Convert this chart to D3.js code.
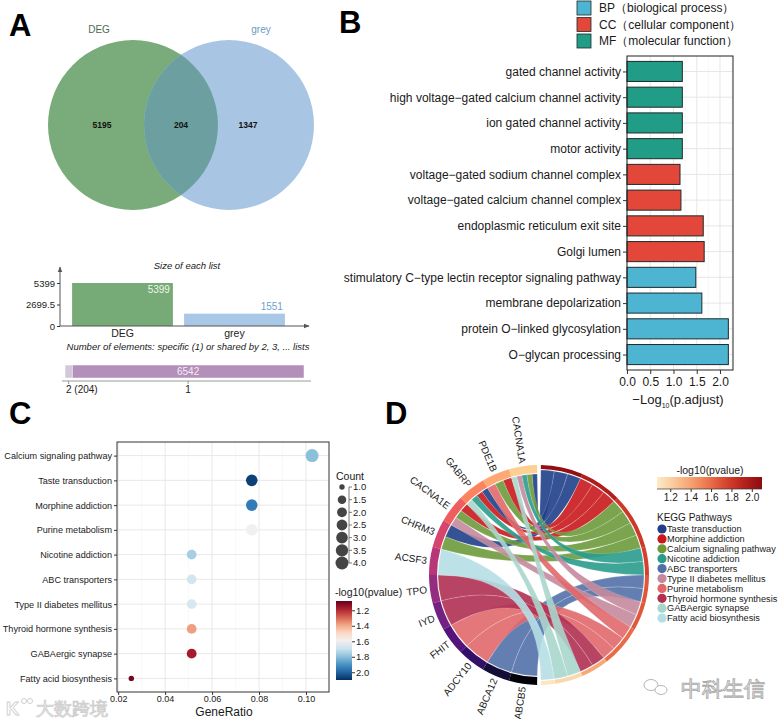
<!DOCTYPE html>
<html>
<head>
<meta charset="utf-8">
<title>DEG / grey module enrichment</title>
<script src="https://d3js.org/d3.v7.min.js"></script>
<style>
  body { margin: 0; background: #fff; }
  text { font-family: 'Liberation Sans', Arial, Helvetica, sans-serif; fill: #1a1a1a; }
</style>
</head>
<body>
<script>
'use strict';

// ---------- panel A data
const vennSets = ['DEG', 'grey'];
const vennRegions = [5195, 204, 1347];          // DEG only, shared, grey only
const listSizes = [5399, 1551];
const sizeTicks = [0, 2699.5, 5399];
const sharedLabels = ['2 (204)', '1'];
const sharedCounts = [204, 6542];

// ---------- panel B data
const goTerms = [
  'gated channel activity',
  'high voltage\u2212gated calcium channel activity',
  'ion gated channel activity',
  'motor activity',
  'voltage\u2212gated sodium channel complex',
  'voltage\u2212gated calcium channel complex',
  'endoplasmic reticulum exit site',
  'Golgi lumen',
  'stimulatory C\u2212type lectin receptor signaling pathway',
  'membrane depolarization',
  'protein O\u2212linked glycosylation',
  'O\u2212glycan processing'
];
const goLogP = [1.19, 1.19, 1.19, 1.19, 1.14, 1.16, 1.64, 1.66, 1.48, 1.61, 2.18, 2.18];
const goOnt = ['MF', 'MF', 'MF', 'MF', 'CC', 'CC', 'CC', 'CC', 'BP', 'BP', 'BP', 'BP'];
const ontKeys = ['BP', 'CC', 'MF'];
const ontLabels = ['BP\uff08biological process\uff09', 'CC\uff08cellular component\uff09', 'MF\uff08molecular function\uff09'];
const goTicks = [0, 0.5, 1, 1.5, 2];

// ---------- panel C data
const keggTerms = [
  'Calcium signaling pathway', 'Taste transduction', 'Morphine addiction',
  'Purine metabolism', 'Nicotine addiction', 'ABC transporters',
  'Type II diabetes mellitus', 'Thyroid hormone synthesis', 'GABAergic synapse',
  'Fatty acid biosynthesis'
];
const keggRatio = [0.1026, 0.0769, 0.0769, 0.0769, 0.0513, 0.0513, 0.0513, 0.0513, 0.0513, 0.0256];
const keggCount = [4, 3, 3, 3, 2, 2, 2, 2, 2, 1];
const keggLogP = [1.80, 2.07, 1.95, 1.60, 1.76, 1.68, 1.67, 1.38, 1.17, 1.10];
const ratioTicks = [0.02, 0.04, 0.06, 0.08, 0.10];
const countBreaks = [1, 1.5, 2, 2.5, 3, 3.5, 4];
const logPTicks = [1.2, 1.4, 1.6, 1.8, 2.0];

// ---------- panel D data
const chordPathways = [
  'Taste transduction', 'Morphine addiction', 'Calcium signaling pathway',
  'Nicotine addiction', 'ABC transporters', 'Type II diabetes mellitus',
  'Purine metabolism', 'Thyroid hormone synthesis', 'GABAergic synapse',
  'Fatty acid biosynthesis'
];
const pathwayColors = ['#1f3f88', '#c8181c', '#6b9a3a', '#2a9c8c', '#5270a8',
                       '#c48a9c', '#e0686c', '#b03052', '#a8d6cc', '#b5dfe6'];
const chordGenes = ['CACNA1A', 'PDE1B', 'GABRP', 'CACNA1E', 'CHRM3', 'ACSF3',
                    'TPO', 'IYD', 'FHIT', 'ADCY10', 'ABCA12', 'ABCB5'];
const chordLinks = [
  ['CACNA1A', 'Taste transduction'], ['CACNA1A', 'Calcium signaling pathway'],
  ['CACNA1A', 'Nicotine addiction'], ['CACNA1A', 'Type II diabetes mellitus'],
  ['CACNA1A', 'GABAergic synapse'],
  ['PDE1B', 'Morphine addiction'], ['PDE1B', 'Calcium signaling pathway'], ['PDE1B', 'Purine metabolism'],
  ['GABRP', 'Taste transduction'], ['GABRP', 'Morphine addiction'],
  ['GABRP', 'Nicotine addiction'], ['GABRP', 'GABAergic synapse'],
  ['CACNA1E', 'Morphine addiction'], ['CACNA1E', 'Calcium signaling pathway'],
  ['CACNA1E', 'Type II diabetes mellitus'],
  ['CHRM3', 'Taste transduction'], ['CHRM3', 'Calcium signaling pathway'],
  ['ACSF3', 'Fatty acid biosynthesis'],
  ['TPO', 'Thyroid hormone synthesis'], ['IYD', 'Thyroid hormone synthesis'],
  ['FHIT', 'Purine metabolism'], ['ADCY10', 'Purine metabolism'],
  ['ABCA12', 'ABC transporters'], ['ABCB5', 'ABC transporters']
];

// ---------- canvas
const width = 780, height = 719;
const svg = d3.select('body').append('svg')
  .attr('width', width)
  .attr('height', height);
svg.append('rect').attr('width', width).attr('height', height).attr('fill', '#fff');

const defs = svg.append('defs');
defs.append('marker')
  .attr('id', 'arrow')
  .attr('viewBox', '0 0 10 10')
  .attr('refX', 9).attr('refY', 5)
  .attr('markerWidth', 6).attr('markerHeight', 6)
  .attr('orient', 'auto')
  .append('path').attr('d', 'M0,1L10,5L0,9Z').attr('fill', '#555');

// panel letters
[['A', 9, 36], ['B', 339, 33], ['C', 9, 424], ['D', 385, 424]].forEach(function(p) {
  svg.append('text').attr('x', p[1]).attr('y', p[2]).text(p[0])
    .attr('font-size', 31).attr('font-weight', 'bold').style('fill', '#000');
});

function styleAxis(g, size, colour) {
  g.select('.domain').remove();
  g.selectAll('.tick line').attr('stroke', '#333');
  g.selectAll('.tick text').attr('font-size', size).style('fill', colour || '#1a1a1a')
    .attr('font-family', null);
}

// =============== PANEL A : venn
const vr = 85, vy = 125, vx = [133, 229];
const vennFill = ['#7aab7a', '#a8c6e4'];
defs.append('clipPath').attr('id', 'clipDEG')
  .append('circle').attr('cx', vx[0]).attr('cy', vy).attr('r', vr);
vx.forEach(function(x, i) {
  svg.append('circle').attr('cx', x).attr('cy', vy).attr('r', vr).attr('fill', vennFill[i]);
});
svg.append('circle').attr('cx', vx[1]).attr('cy', vy).attr('r', vr)
  .attr('clip-path', 'url(#clipDEG)').attr('fill', '#6ca0a0');

svg.append('text').attr('x', vx[0] - 34).attr('y', 33).attr('text-anchor', 'middle')
  .attr('font-size', 10).style('fill', '#4c6b52').text(vennSets[0]);
svg.append('text').attr('x', vx[1] + 32).attr('y', 33).attr('text-anchor', 'middle')
  .attr('font-size', 10).style('fill', '#6b9bc3').text(vennSets[1]);

const regionX = [vx[0] - 31, (vx[0] + vx[1]) / 2, vx[1] + 19];
vennRegions.forEach(function(v, i) {
  svg.append('text').attr('x', regionX[i]).attr('y', vy + 3).attr('text-anchor', 'middle')
    .attr('font-size', 8.5).attr('font-weight', 'bold').style('fill', '#111').text(v);
});

// size of each list
const by = d3.scaleLinear().domain([0, 5399]).range([326, 283]);
const bx = d3.scaleBand().domain(vennSets).range([66.5, 290.5]).paddingInner(0.1).paddingOuter(0.05);
const barFill = ['#76aa76', '#a9c7e7'];

svg.append('text').attr('x', 187).attr('y', 269).attr('text-anchor', 'middle')
  .attr('font-size', 9.5).attr('font-style', 'italic').text('Size of each list');

svg.selectAll('.sizebar').data(listSizes).enter().append('rect')
  .attr('x', (d, i) => bx(vennSets[i]))
  .attr('y', d => by(d))
  .attr('width', bx.bandwidth())
  .attr('height', d => by(0) - by(d))
  .attr('fill', (d, i) => barFill[i]);

svg.append('text').attr('x', bx('DEG') + bx.bandwidth() - 3).attr('y', by(listSizes[0]) + 10)
  .attr('text-anchor', 'end').attr('font-size', 10).style('fill', '#eef6ee').text(listSizes[0]);
svg.append('text').attr('x', bx('grey') + bx.bandwidth() - 2).attr('y', by(listSizes[1]) - 4)
  .attr('text-anchor', 'end').attr('font-size', 10).style('fill', '#6f9fcb').text(listSizes[1]);

svg.append('line').attr('x1', 60).attr('y1', 326).attr('x2', 60).attr('y2', 267)
  .attr('stroke', '#555').attr('marker-end', 'url(#arrow)');
svg.append('line').attr('x1', 60).attr('y1', 326).attr('x2', 309).attr('y2', 326)
  .attr('stroke', '#555').attr('marker-end', 'url(#arrow)');

const aY = svg.append('g').attr('transform', 'translate(60,0)')
  .call(d3.axisLeft(by).tickValues(sizeTicks).tickFormat(d => d).tickSize(3).tickPadding(2));
styleAxis(aY, 9.5, '#222');
const aX = svg.append('g').attr('transform', 'translate(0,326)')
  .call(d3.axisBottom(bx).tickSize(0).tickPadding(4));
styleAxis(aX, 10.5, '#222');

// shared elements
svg.append('text').attr('x', 188).attr('y', 350).attr('text-anchor', 'middle')
  .attr('font-size', 9.5).attr('font-style', 'italic')
  .text('Number of elements: specific (1) or shared by 2, 3, ... lists');

const sx = d3.scaleLinear().domain([0, d3.sum(sharedCounts)]).range([65, 304]);
const sharedStart = [0, sharedCounts[0]];
const sharedFill = ['#d3c8d7', '#b48fba'];
svg.selectAll('.sharedbar').data(sharedCounts).enter().append('rect')
  .attr('x', (d, i) => sx(sharedStart[i]))
  .attr('y', 365)
  .attr('width', d => sx(d) - sx(0))
  .attr('height', 13)
  .attr('fill', (d, i) => sharedFill[i])
  .attr('stroke', '#fff').attr('stroke-width', 0.5);
svg.append('text').attr('x', sx(sharedStart[1] + sharedCounts[1] / 2)).attr('y', 375)
  .attr('text-anchor', 'middle').attr('font-size', 10).style('fill', '#f4ecf5').text(sharedCounts[1]);
svg.append('line').attr('x1', 62).attr('x2', 311).attr('y1', 381).attr('y2', 381).attr('stroke', '#999');
sharedLabels.forEach(function(l, i) {
  const cxs = sx(sharedStart[i] + sharedCounts[i] / 2);
  svg.append('line').attr('x1', cxs).attr('x2', cxs).attr('y1', 381).attr('y2', 384).attr('stroke', '#999');
  svg.append('text').attr('x', i === 0 ? sx(0) + 1 : cxs).attr('y', 393)
    .attr('text-anchor', i === 0 ? 'start' : 'middle').attr('font-size', 10).style('fill', '#222').text(l);
});

// =============== PANEL B : GO bars
const ontFill = {BP: '#4db4d2', CC: '#e2473a', MF: '#219c86'};
const gx = d3.scaleLinear().domain([0, 2.28]).range([627, 733]);
const gy = d3.scalePoint().domain(goTerms).range([56, 370]).padding(0.6);
const barH = gy.step() * 0.78;

const gB = svg.append('g');
d3.range(0.25, 2.3, 0.5).forEach(function(v) {
  gB.append('line').attr('x1', gx(v)).attr('x2', gx(v)).attr('y1', 56).attr('y2', 370)
    .attr('stroke', '#f2f2f2').attr('stroke-width', 0.6);
});
goTicks.forEach(function(v) {
  gB.append('line').attr('x1', gx(v)).attr('x2', gx(v)).attr('y1', 56).attr('y2', 370)
    .attr('stroke', '#e6e6e6').attr('stroke-width', 1);
});
goTerms.forEach(function(t) {
  gB.append('line').attr('x1', 627).attr('x2', 733).attr('y1', gy(t)).attr('y2', gy(t))
    .attr('stroke', '#e6e6e6').attr('stroke-width', 1);
});
gB.selectAll('.gobar').data(goLogP).enter().append('rect')
  .attr('x', gx(0))
  .attr('y', (d, i) => gy(goTerms[i]) - barH / 2)
  .attr('width', d => gx(d) - gx(0))
  .attr('height', barH)
  .attr('fill', (d, i) => ontFill[goOnt[i]])
  .attr('stroke', '#1d2b2b').attr('stroke-width', 1);
gB.append('rect').attr('x', 627).attr('y', 56).attr('width', 106).attr('height', 314)
  .attr('fill', 'none').attr('stroke', '#222').attr('stroke-width', 1);

const bY = svg.append('g').attr('transform', 'translate(627,0)')
  .call(d3.axisLeft(gy).tickSize(4).tickPadding(2));
styleAxis(bY, 12);
const bXa = svg.append('g').attr('transform', 'translate(0,370)')
  .call(d3.axisBottom(gx).tickValues(goTicks).tickFormat(d3.format('.1f')).tickSize(4).tickPadding(3));
styleAxis(bXa, 12);

const bT = svg.append('text').attr('x', 678).attr('y', 404).attr('text-anchor', 'middle').attr('font-size', 13);
bT.append('tspan').text('\u2212Log');
bT.append('tspan').attr('font-size', 7).attr('dy', 4).text('10');
bT.append('tspan').attr('dy', -4).text('(p.adjust)');

ontKeys.forEach(function(k, i) {
  svg.append('rect').attr('x', 577).attr('y', 1 + i * 16.5).attr('width', 14).attr('height', 14)
    .attr('fill', ontFill[k]).attr('stroke', '#1d2b2b').attr('stroke-width', 0.8);
  svg.append('text').attr('x', 599).attr('y', 8 + i * 16.5).attr('dy', '0.35em')
    .attr('font-size', 12).text(ontLabels[i]);
});

// =============== PANEL C : KEGG dot plot
const cX = d3.scaleLinear().domain([0.0195, 0.1098]).range([117, 329]);
const cY = d3.scalePoint().domain(keggTerms).range([442, 692]).padding(0.55);
const cCol = d3.scaleSequential(d3.interpolateRdBu).domain([1.08, 2.10]);
const cSize = d3.scaleSqrt().domain([0, 3]).range([0, 3.8]);
const rad = c => 2.7 + cSize(c - 1);

const gC = svg.append('g');
d3.range(0.03, 0.11, 0.02).forEach(function(v) {
  gC.append('line').attr('x1', cX(v)).attr('x2', cX(v)).attr('y1', 442).attr('y2', 692)
    .attr('stroke', '#f3f3f3').attr('stroke-width', 0.6);
});
ratioTicks.forEach(function(v) {
  gC.append('line').attr('x1', cX(v)).attr('x2', cX(v)).attr('y1', 442).attr('y2', 692)
    .attr('stroke', '#e8e8e8');
});
keggTerms.forEach(function(t) {
  gC.append('line').attr('x1', 117).attr('x2', 329).attr('y1', cY(t)).attr('y2', cY(t))
    .attr('stroke', '#e8e8e8');
});
gC.selectAll('.dot').data(keggTerms).enter().append('circle')
  .attr('cx', (d, i) => cX(keggRatio[i]))
  .attr('cy', d => cY(d))
  .attr('r', (d, i) => rad(keggCount[i]))
  .attr('fill', (d, i) => cCol(keggLogP[i]));
gC.append('rect').attr('x', 117).attr('y', 442).attr('width', 212).attr('height', 250)
  .attr('fill', 'none').attr('stroke', '#333').attr('stroke-width', 1);

const cYa = svg.append('g').attr('transform', 'translate(117,0)')
  .call(d3.axisLeft(cY).tickSize(3).tickPadding(2));
styleAxis(cYa, 9.1);
const cXa = svg.append('g').attr('transform', 'translate(0,692)')
  .call(d3.axisBottom(cX).tickValues(ratioTicks).tickFormat(d3.format('.2f')).tickSize(3).tickPadding(1));
styleAxis(cXa, 9);
svg.append('text').attr('x', 224).attr('y', 716).attr('text-anchor', 'middle')
  .attr('font-size', 12).text('GeneRatio');

// count legend
svg.append('text').attr('x', 336).attr('y', 480).attr('font-size', 10.5).text('Count');
const legY = d3.scaleLinear().domain([1, 4]).range([487, 563]);
svg.append('line').attr('x1', 349).attr('x2', 349).attr('y1', legY(1)).attr('y2', legY(4))
  .attr('stroke', '#444').attr('stroke-width', 0.7);
countBreaks.forEach(function(c) {
  svg.append('circle').attr('cx', 342).attr('cy', legY(c)).attr('r', rad(c)).attr('fill', '#444');
  svg.append('line').attr('x1', 349).attr('x2', 352).attr('y1', legY(c)).attr('y2', legY(c))
    .attr('stroke', '#444').attr('stroke-width', 0.7);
  svg.append('text').attr('x', 353).attr('y', legY(c)).attr('dy', '0.35em')
    .attr('font-size', 9.5).text(d3.format('.1f')(c));
});

// colour legend
svg.append('text').attr('x', 335).attr('y', 596).attr('font-size', 10.5).text('-log10(pvalue)');
const gradC = defs.append('linearGradient').attr('id', 'gradC')
  .attr('x1', 0).attr('x2', 0).attr('y1', 0).attr('y2', 1);
d3.range(0, 1.001, 0.1).forEach(function(t) {
  gradC.append('stop').attr('offset', t).attr('stop-color', cCol(1.08 + t * 1.02));
});
const cbY = d3.scaleLinear().domain([1.08, 2.10]).range([601, 680]);
svg.append('rect').attr('x', 336).attr('y', 601).attr('width', 16).attr('height', 79)
  .attr('fill', 'url(#gradC)');
const cbA = svg.append('g').attr('transform', 'translate(352,0)')
  .call(d3.axisRight(cbY).tickValues(logPTicks).tickFormat(d3.format('.1f')).tickSize(3).tickPadding(1));
styleAxis(cbA, 9.5);

// =============== PANEL D : chord
const ccx = 539, ccy = 575, R = 110;
const gap = Math.PI / 180;
const span = Math.PI - 2 * gap;
const unitP = span / chordLinks.length;
const geneW = span / chordGenes.length;
const pCount = chordPathways.map(p => chordLinks.filter(l => l[1] === p).length);
const pStart = [];
chordPathways.forEach(function(p, i) { pStart.push(gap + unitP * d3.sum(pCount.slice(0, i))); });
const pLogP = chordPathways.map(p => keggLogP[keggTerms.indexOf(p)]);

const dCol = d3.scaleSequential(d3.interpolateRgbBasis(['#fdebc8', '#f8b880', '#ee7048', '#c9281f', '#8c0c10']))
  .domain([1.07, 2.10]);
const geneCol = d3.scaleLinear().domain([0, chordGenes.length - 1]).range([0.9, 0.02]);

const links = chordLinks.map(function(l) {
  return {gene: chordGenes.indexOf(l[0]), path: chordPathways.indexOf(l[1])};
});
links.forEach(function(l) {
  const gl = links.filter(m => m.gene === l.gene).sort((a, b) => a.path - b.path);
  const pl = links.filter(m => m.path === l.path).sort((a, b) => a.gene - b.gene);
  const w = geneW / gl.length;
  const hi = 2 * Math.PI - gap - l.gene * geneW - gl.indexOf(l) * w;
  l.source = {startAngle: hi - w, endAngle: hi, radius: R - 9};
  const lo = pStart[l.path] + pl.indexOf(l) * unitP;
  l.target = {startAngle: lo, endAngle: lo + unitP, radius: R - 5};
});

const gD = svg.append('g').attr('transform', 'translate(' + ccx + ',' + ccy + ')');
const ribbon = d3.ribbon();
gD.selectAll('.link').data(links.slice().sort((a, b) => a.path - b.path)).enter().append('path')
  .attr('d', ribbon)
  .attr('fill', d => pathwayColors[d.path])
  .attr('fill-opacity', 0.9)
  .attr('stroke', '#fff').attr('stroke-width', 0.3).attr('stroke-opacity', 0.6);

const arc = d3.arc();
chordGenes.forEach(function(g, i) {
  const a1 = 2 * Math.PI - gap - i * geneW;
  gD.append('path').attr('d', arc({innerRadius: R - 8, outerRadius: R, startAngle: a1 - geneW, endAngle: a1}))
    .attr('fill', d3.interpolateMagma(geneCol(i)));
  const mid = a1 - geneW / 2;
  const deg = mid * 180 / Math.PI;
  const lx = Math.sin(mid) * (R + 3), ly = -Math.cos(mid) * (R + 3);
  gD.append('text').attr('x', lx).attr('y', ly)
    .attr('transform', 'rotate(' + (deg - 270) + ',' + lx + ',' + ly + ')')
    .attr('text-anchor', 'end').attr('dy', '0.35em').attr('font-size', 10).text(g);
});
chordPathways.forEach(function(p, i) {
  gD.append('path').attr('d', arc({innerRadius: R - 4, outerRadius: R,
      startAngle: pStart[i], endAngle: pStart[i] + pCount[i] * unitP}))
    .attr('fill', dCol(pLogP[i]));
});

// D legends
svg.append('text').attr('x', 710).attr('y', 474).attr('text-anchor', 'middle')
  .attr('font-size', 10.5).text('-log10(pvalue)');
const gradD = defs.append('linearGradient').attr('id', 'gradD');
d3.range(0, 1.001, 0.1).forEach(function(t) {
  gradD.append('stop').attr('offset', t).attr('stop-color', dCol(1.07 + t * 1.03));
});
const dbx = d3.scaleLinear().domain([1.07, 2.10]).range([657, 762]);
svg.append('rect').attr('x', 657).attr('y', 477).attr('width', 105).attr('height', 12).attr('fill', 'url(#gradD)');
svg.append('line').attr('x1', 657).attr('x2', 762).attr('y1', 489).attr('y2', 489).attr('stroke', '#333').attr('stroke-width', 0.7);
const dbA = svg.append('g').attr('transform', 'translate(0,489)')
  .call(d3.axisBottom(dbx).tickValues(logPTicks).tickFormat(d3.format('.1f')).tickSize(3).tickPadding(2));
styleAxis(dbA, 10);

svg.append('text').attr('x', 657).attr('y', 521).attr('font-size', 10).text('KEGG Pathways');
chordPathways.forEach(function(p, i) {
  svg.append('circle').attr('cx', 662).attr('cy', 529 + i * 9.9).attr('r', 4.6).attr('fill', pathwayColors[i]);
  svg.append('text').attr('x', 667).attr('y', 529 + i * 9.9).attr('dy', '0.35em')
    .attr('font-size', 9.2).text(p);
});

// watermarks
svg.append('text').attr('x', 36).attr('y', 715).attr('font-size', 18)
  .style('fill', '#fff').attr('stroke', '#cfcfcf').attr('stroke-width', 0.9).text('大数跨境');
svg.append('text').attr('x', 6).attr('y', 715).attr('font-size', 18).attr('font-weight', 'bold')
  .style('fill', '#fff').attr('stroke', '#cfcfcf').attr('stroke-width', 0.9).text('K');
svg.append('circle').attr('cx', 24).attr('cy', 701).attr('r', 2.5).attr('fill', 'none').attr('stroke', '#cfcfcf');
svg.append('circle').attr('cx', 30).attr('cy', 701).attr('r', 2.5).attr('fill', 'none').attr('stroke', '#cfcfcf');

svg.append('ellipse').attr('cx', 651).attr('cy', 685).attr('rx', 7).attr('ry', 5.5)
  .attr('fill', 'none').attr('stroke', '#b5b5b5');
svg.append('ellipse').attr('cx', 661).attr('cy', 690).attr('rx', 6).attr('ry', 4.5)
  .attr('fill', '#fff').attr('stroke', '#b5b5b5');
svg.append('text').attr('x', 681).attr('y', 696).attr('font-size', 21)
  .style('fill', '#fff').attr('stroke', '#aaa').attr('stroke-width', 0.9).text('中科生信');
</script>
</body>
</html>
